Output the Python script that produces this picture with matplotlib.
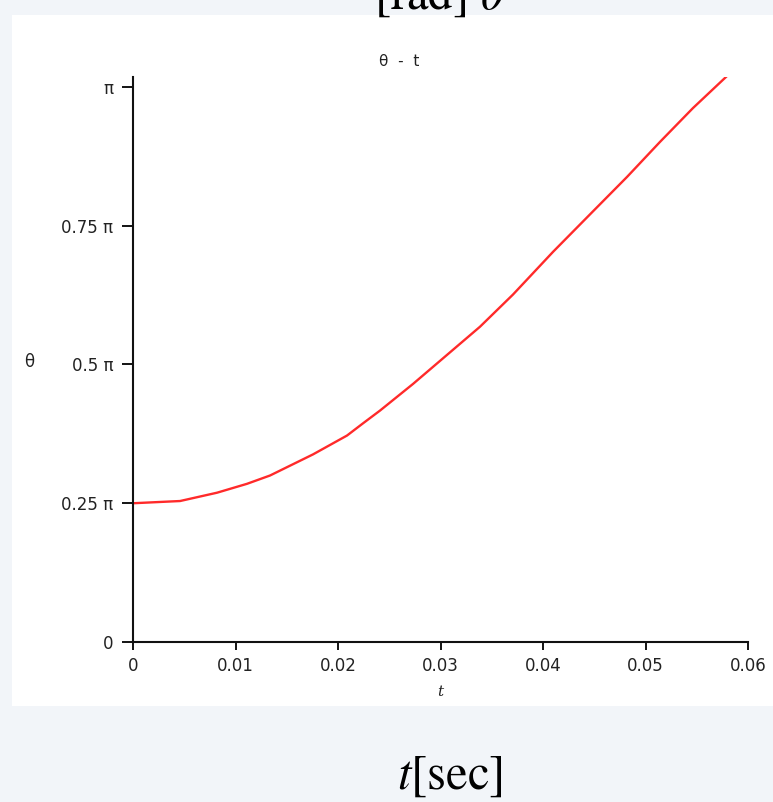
import numpy as np
import matplotlib
matplotlib.use("Agg")
import matplotlib.pyplot as plt
from matplotlib.patches import Rectangle

plt.rcParams['mathtext.fontset'] = 'stix'

# data (theta in units of pi)
t_vals = [0.0, 0.00459, 0.0082, 0.01112, 0.01337, 0.01756, 0.02088, 0.02244,
          0.0241, 0.02732, 0.03385, 0.03707, 0.04098, 0.04488,
          0.0482, 0.05141, 0.05463, 0.05785]
theta_over_pi = [0.250, 0.254, 0.269, 0.285, 0.300, 0.338, 0.372, 0.394,
                 0.417, 0.465, 0.568, 0.626, 0.703, 0.776,
                 0.838, 0.901, 0.962, 1.018]
y_ticks_pi = [0, 0.25, 0.5, 0.75, 1.0]
y_tick_labels = ['0', '0.25 π', '0.5 π', '0.75 π', 'π']
x_ticks = [0, 0.01, 0.02, 0.03, 0.04, 0.05, 0.06]
x_tick_labels = ['0', '0.01', '0.02', '0.03', '0.04', '0.05', '0.06']

W, H = 773, 802
fig = plt.figure(figsize=(W / 100, H / 100), dpi=100)
fig.patch.set_facecolor('#f2f5f9')

# white panel
fig.patches.append(Rectangle((12 / W, 1 - 706 / H), (773 - 12) / W, (706 - 15) / H,
                             transform=fig.transFigure, facecolor='white',
                             edgecolor='none', zorder=-5))

ax = fig.add_axes([133 / W, 1 - 642 / H, 615 / W, 565 / H])
ax.set_zorder(2)
ax.set_facecolor('none')
theta = np.array(theta_over_pi) * np.pi
ax.plot(t_vals, theta, color='#ff2a2a', lw=1.7, solid_joinstyle='round')

ax.set_xlim(0, 0.06)
ax.set_ylim(0, 1.018 * np.pi)
for s in ['top', 'right']:
    ax.spines[s].set_visible(False)
for s in ['left', 'bottom']:
    ax.spines[s].set_linewidth(1.5)
    ax.spines[s].set_color('#111111')

ax.set_yticks(np.array(y_ticks_pi) * np.pi)
ax.set_yticklabels(y_tick_labels)
ax.set_xticks(x_ticks)
ax.set_xticklabels(x_tick_labels)
ax.tick_params(axis='y', direction='out', length=8, width=1.3, pad=6,
               labelsize=12, labelcolor='#222222')
ax.tick_params(axis='x', direction='out', length=6, width=1.3, pad=5,
               labelsize=12, labelcolor='#222222')

fig.text(399 / W, 1 - 62 / H, 'θ  -  t', ha='center', va='center', fontsize=11,
         color='#222222', zorder=3)
fig.text(29 / W, 1 - 362 / H, 'θ', ha='center', va='center', fontsize=12,
         color='#222222', zorder=3)
fig.text(440 / W, 1 - 692 / H, 't', ha='center', va='center', fontsize=11,
         style='italic', family='DejaVu Serif', color='#222222', zorder=3)

# large labels of the surrounding slide
fig.text(450 / W, 1 - 775 / H, r'$t[\mathrm{sec}]$', ha='center', va='center',
         fontsize=35, color='black', zorder=3)
fig.text(440 / W, 1 - 9 / H, r'$[\mathrm{rad}]\ \theta$', ha='center',
         va='baseline', fontsize=35, color='black', zorder=3)

fig.savefig('out.png', dpi=100, facecolor=fig.get_facecolor())
